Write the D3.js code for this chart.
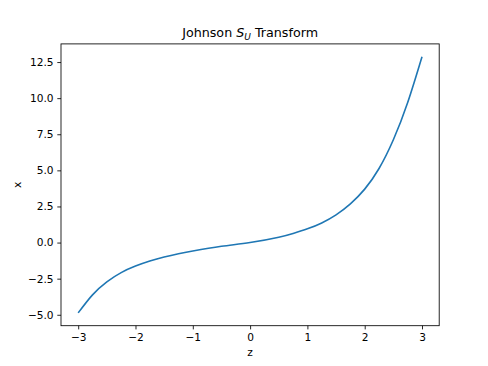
<!DOCTYPE html>
<meta charset="utf-8">
<style>
body { margin: 0; background: #fff; }
text { font-family: "DejaVu Sans", sans-serif; fill: #000; }
.line { fill: none; stroke: #1f77b4; stroke-width: 1.6px; }
.axis path, .axis line { stroke: #000; stroke-width: 0.85px; }
</style>
<body>
<script src="https://d3js.org/d3.v7.min.js"></script>
<script>

// z values and the transformed x
var zVals = [-3, -2.75, -2.5, -2.25, -2, -1.75, -1.5, -1.25, -1, -0.5, 0, 0.5, 0.75, 1, 1.25, 1.5, 1.75, 2, 2.25, 2.5, 2.75, 3];
var xVals = [-4.87, -3.62, -2.72, -2.08, -1.63, -1.28, -1.0, -0.77, -0.58, -0.26, 0.0, 0.37, 0.63, 0.95, 1.36, 1.92, 2.68, 3.70, 5.13, 7.12, 9.7, 12.87];

var xTicks = [-3, -2, -1, 0, 1, 2, 3];
var yTicks = [-5, -2.5, 0, 2.5, 5, 7.5, 10, 12.5];

var data = zVals.map(function (z, i) { return {z: z, x: xVals[i]}; });

// set the dimensions and margins of the graph
var W = 488, H = 366;
var margin = {top: 43.9, right: 48.8, bottom: 40.3, left: 61},
    width = W - margin.left - margin.right,
    height = H - margin.top - margin.bottom;

var svg = d3.select("body").append("svg")
    .attr("width", W)
    .attr("height", H);

var g = svg.append("g")
    .attr("transform", "translate(" + margin.left + "," + margin.top + ")");

// scales with matplotlib style 5% padding
var zExt = d3.extent(zVals), xExt = d3.extent(xVals);
var zPad = (zExt[1] - zExt[0]) * 0.05, xPad = (xExt[1] - xExt[0]) * 0.05;
var x = d3.scaleLinear().domain([zExt[0] - zPad, zExt[1] + zPad]).range([0, width]);
var y = d3.scaleLinear().domain([xExt[0] - xPad, xExt[1] + xPad]).range([height, 0]);

var valueline = d3.line()
    .curve(d3.curveNatural)
    .x(function (d) { return x(d.z); })
    .y(function (d) { return y(d.x); });

g.append("path")
    .datum(data)
    .attr("class", "line")
    .attr("d", valueline);

// frame
g.append("rect")
    .attr("width", width)
    .attr("height", height)
    .attr("fill", "none")
    .attr("stroke", "#000")
    .attr("stroke-width", 0.85);

// axes
var xAxis = g.append("g")
    .attr("class", "axis")
    .attr("transform", "translate(0," + height + ")")
    .call(d3.axisBottom(x).tickValues(xTicks).tickSize(3.7).tickPadding(3.7).tickFormat(d3.format("d")));
var yAxis = g.append("g")
    .attr("class", "axis")
    .call(d3.axisLeft(y).tickValues(yTicks).tickSize(3.7).tickPadding(3.7).tickFormat(d3.format(".1f")));
xAxis.select(".domain").remove();
yAxis.select(".domain").remove();
g.selectAll(".axis text").style("font-size", "10.6px").style("font-family", "DejaVu Sans");

// labels
svg.append("text")
    .attr("x", margin.left + width / 2)
    .attr("y", 356)
    .attr("text-anchor", "middle")
    .style("font-size", "10.6px")
    .text("z");

svg.append("text")
    .attr("transform", "translate(21," + (margin.top + height / 2) + ") rotate(-90)")
    .attr("text-anchor", "middle")
    .style("font-size", "10.6px")
    .text("x");

// title with subscript
var title = svg.append("text")
    .attr("x", margin.left + width / 2)
    .attr("y", 37)
    .attr("text-anchor", "middle")
    .style("font-size", "12.7px");
title.append("tspan").text("Johnson ");
title.append("tspan").style("font-style", "italic").text("S");
title.append("tspan").style("font-style", "italic").style("font-size", "9px").attr("dy", 3).text("U");
title.append("tspan").attr("dy", -3).text(" Transform");

</script>
</body>
